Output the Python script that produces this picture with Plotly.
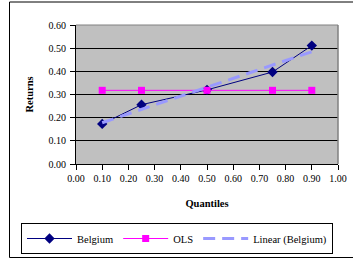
import numpy as np
import plotly.graph_objects as go

quantiles = [0.10, 0.25, 0.50, 0.75, 0.90]
belgium = [0.173, 0.256, 0.320, 0.397, 0.511]
ols = [0.318, 0.318, 0.318, 0.318, 0.318]
x_ticks = [0.0, 0.1, 0.2, 0.3, 0.4, 0.5, 0.6, 0.7, 0.8, 0.9, 1.0]
y_ticks = [0.0, 0.1, 0.2, 0.3, 0.4, 0.5, 0.6]

slope, intercept = np.polyfit(quantiles, belgium, 1)
trend = [slope * q + intercept for q in quantiles]

FONT = "Liberation Serif"

fig = go.Figure()
fig.add_trace(go.Scatter(
    x=quantiles, y=belgium, name="Belgium", mode="lines+markers",
    line=dict(color="#000080", width=1),
    marker=dict(symbol="diamond", size=8, color="#000080"),
))
fig.add_trace(go.Scatter(
    x=quantiles, y=ols, name="OLS", mode="lines+markers",
    line=dict(color="#FF00FF", width=1),
    marker=dict(symbol="square", size=7, color="#FF00FF"),
))
fig.add_trace(go.Scatter(
    x=quantiles, y=trend, name="Linear (Belgium)", mode="lines",
    line=dict(color="#9999FF", width=3, dash="12px,7px"),
))

L, R, T, B = 76, 15, 25, 96
W, H = 353, 260
pw, ph = W - L - R, H - T - B

def px_x(p):
    return (p - L) / pw

def px_y(p):
    return (T + ph - p) / ph

fig.update_layout(
    width=W, height=H,
    margin=dict(l=L, r=R, t=T, b=B, pad=0, autoexpand=False),
    paper_bgcolor="white",
    plot_bgcolor="#C0C0C0",
    font=dict(family=FONT, size=10, color="black"),
    showlegend=True,
    legend=dict(
        orientation="h", x=px_x(21), y=px_y(254), xanchor="left", yanchor="bottom",
        bordercolor="black", borderwidth=1, bgcolor="white",
        font=dict(family=FONT, size=10.5, color="black"),
        itemwidth=45, tracegroupgap=0,
    ),
    shapes=[
        dict(type="line", xref="paper", yref="paper", x0=0, x1=1, y0=1, y1=1,
             line=dict(color="#808080", width=1)),
        dict(type="line", xref="paper", yref="paper", x0=1, x1=1, y0=0, y1=1,
             line=dict(color="#808080", width=1.5)),
        dict(type="rect", xref="paper", yref="paper",
             x0=px_x(9.5), x1=px_x(360), y0=px_y(257.5), y1=px_y(2),
             line=dict(color="black", width=1), fillcolor="rgba(0,0,0,0)"),
    ],
)
fig.update_xaxes(
    range=[0, 1], tickvals=x_ticks, ticktext=[f"{v:.2f}" for v in x_ticks],
    showgrid=False, zeroline=False, showline=True, linecolor="black", linewidth=1,
    ticks="outside", ticklen=5, tickcolor="black", tickwidth=1,
    tickfont=dict(family=FONT, size=10),
    title=dict(text="<b>Quantiles</b>", font=dict(family=FONT, size=10.5), standoff=16),
)
fig.update_yaxes(
    range=[0, 0.6], tickvals=y_ticks, ticktext=[f"{v:.2f}" for v in y_ticks],
    showgrid=True, gridcolor="black", gridwidth=1, zeroline=False,
    showline=True, linecolor="black", linewidth=1,
    ticks="outside", ticklen=5, tickcolor="black", tickwidth=1,
    ticklabelstandoff=2,
    tickfont=dict(family=FONT, size=10),
    title=dict(text="<b>Returns</b>", font=dict(family=FONT, size=10.5), standoff=12),
)

fig.write_html(
    "out.html",
    config={"displayModeBar": False},
    post_script="document.body.style.margin='0';document.body.style.overflow='hidden';",
)
